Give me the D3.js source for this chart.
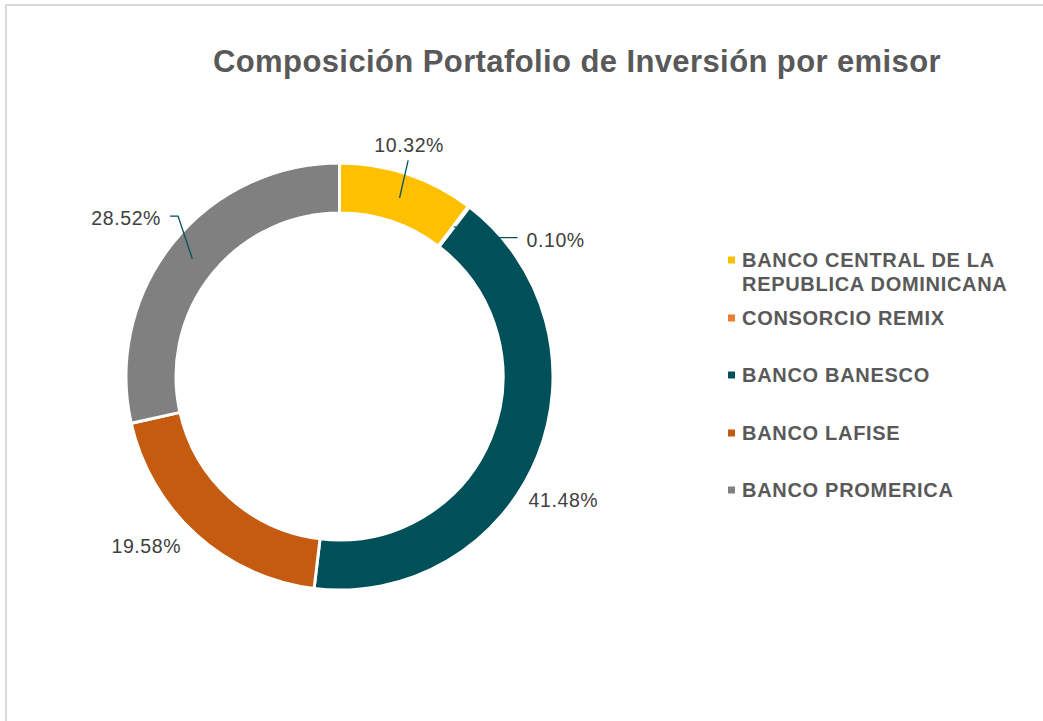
<!DOCTYPE html>
<html>
<head>
<meta charset="utf-8">
<script src="https://cdn.jsdelivr.net/npm/d3@7"></script>
<style>
  html, body { margin: 0; padding: 0; background: #fff; }
  svg { display: block; }
</style>
</head>
<body>
<svg id="chart" width="1043" height="721"></svg>
<script>
// data
const emisores = [
  ['BANCO CENTRAL DE LA', 'REPUBLICA DOMINICANA'],
  ['CONSORCIO REMIX'],
  ['BANCO BANESCO'],
  ['BANCO LAFISE'],
  ['BANCO PROMERICA']
];
const porcentajes = [10.32, 0.10, 41.48, 19.58, 28.52];
const colores = ['#FFC000', '#ED7D31', '#00505A', '#C55A11', '#808080'];
const titulo = 'Composición Portafolio de Inversión por emisor';

const
  width = 1043,
  height = 721,
  cx = 339.5,
  cy = 376.5,
  outerR = 213.5,
  innerR = 163.5,
  labelR = outerR + 24
  ;

// label placement, nudges from the polar anchor
const labelLayout = [
  {dx: -6, dy: -6, anchor: 'middle', leader: 'straight'},
  {dx: 43, dy: 52, anchor: 'start', leader: 'elbow'},
  {dx: 4, dy: 34, anchor: 'middle', leader: null},
  {dx: -34, dy: -7, anchor: 'middle', leader: null},
  {dx: 7, dy: -10, anchor: 'end', leader: 'elbow'}
];

const svg = d3.select('#chart');

// outer frame (only left/top edges visible in the picture)
svg.append('rect')
  .attr('x', 6).attr('y', 5)
  .attr('width', width + 20).attr('height', height + 20)
  .attr('fill', '#fff')
  .attr('stroke', '#D9D9D9')
  .attr('stroke-width', 2);

svg.append('text')
  .attr('x', 577)
  .attr('y', 72)
  .attr('text-anchor', 'middle')
  .attr('font-family', 'Liberation Sans, Arial, sans-serif')
  .attr('font-weight', 'bold')
  .attr('font-size', 31)
  .attr('letter-spacing', 0.4)
  .attr('fill', '#595959')
  .text(titulo);

const data = porcentajes.map((v, i) => ({name: emisores[i], value: v, color: colores[i], layout: labelLayout[i]}));

const pie = d3.pie().sort(null).value(d => d.value);
const arcs = pie(data);

const arc = d3.arc().innerRadius(innerR).outerRadius(outerR);
const mid = d3.arc().innerRadius((innerR + outerR) / 2).outerRadius((innerR + outerR) / 2);
const lab = d3.arc().innerRadius(labelR).outerRadius(labelR);

const g = svg.append('g').attr('transform', `translate(${cx},${cy})`);

g.selectAll('path.slice')
  .data(arcs)
  .join('path')
  .attr('class', 'slice')
  .attr('d', arc)
  .attr('fill', d => d.data.color)
  .attr('stroke', '#fff')
  .attr('stroke-width', 3)
  .attr('stroke-linejoin', 'miter');

const fmt = v => v.toFixed(2) + '%';

arcs.forEach(d => {
  const
    L = d.data.layout,
    c = mid.centroid(d),
    p = lab.centroid(d),
    tx = p[0] + L.dx,
    ty = p[1] + L.dy
    ;
  if (L.leader === 'straight') {
    g.append('path')
      .attr('d', d3.line()([c, [tx - 1, ty + 15]]))
      .attr('fill', 'none').attr('stroke', '#00505A').attr('stroke-width', 1.3);
  } else if (L.leader === 'elbow') {
    const sgn = L.anchor === 'start' ? 1 : -1;
    const end = [tx - sgn * 9, ty - 2];
    const knee = [end[0] - sgn * 18, end[1]];
    g.append('path')
      .attr('d', d3.line()([c, sgn > 0 ? knee : [end[0] + 8, end[1]], end]))
      .attr('fill', 'none').attr('stroke', '#00505A').attr('stroke-width', 1.3);
  }
  g.append('text')
    .attr('x', tx)
    .attr('y', ty + 7)
    .attr('text-anchor', L.anchor)
    .attr('font-family', 'Liberation Sans, Arial, sans-serif')
    .attr('font-size', 19.5)
    .attr('letter-spacing', 0.6)
    .attr('fill', '#404040')
    .text(fmt(d.data.value));
});

// legend
const legendY = [260, 318, 375, 433, 490];
const legend = svg.append('g').attr('transform', 'translate(728,0)');
data.forEach((d, i) => {
  legend.append('rect')
    .attr('x', 0).attr('y', legendY[i] - 3.5)
    .attr('width', 7).attr('height', 7)
    .attr('fill', d.color);
  const t = legend.append('text')
    .attr('x', 14)
    .attr('y', legendY[i] + 7)
    .attr('font-family', 'Liberation Sans, Arial, sans-serif')
    .attr('font-weight', 'bold')
    .attr('font-size', 20)
    .attr('letter-spacing', 0.7)
    .attr('fill', '#595959');
  d.name.forEach((line, j) => {
    t.append('tspan').attr('x', 14).attr('dy', j === 0 ? 0 : 24).text(line);
  });
});
</script>
</body>
</html>
